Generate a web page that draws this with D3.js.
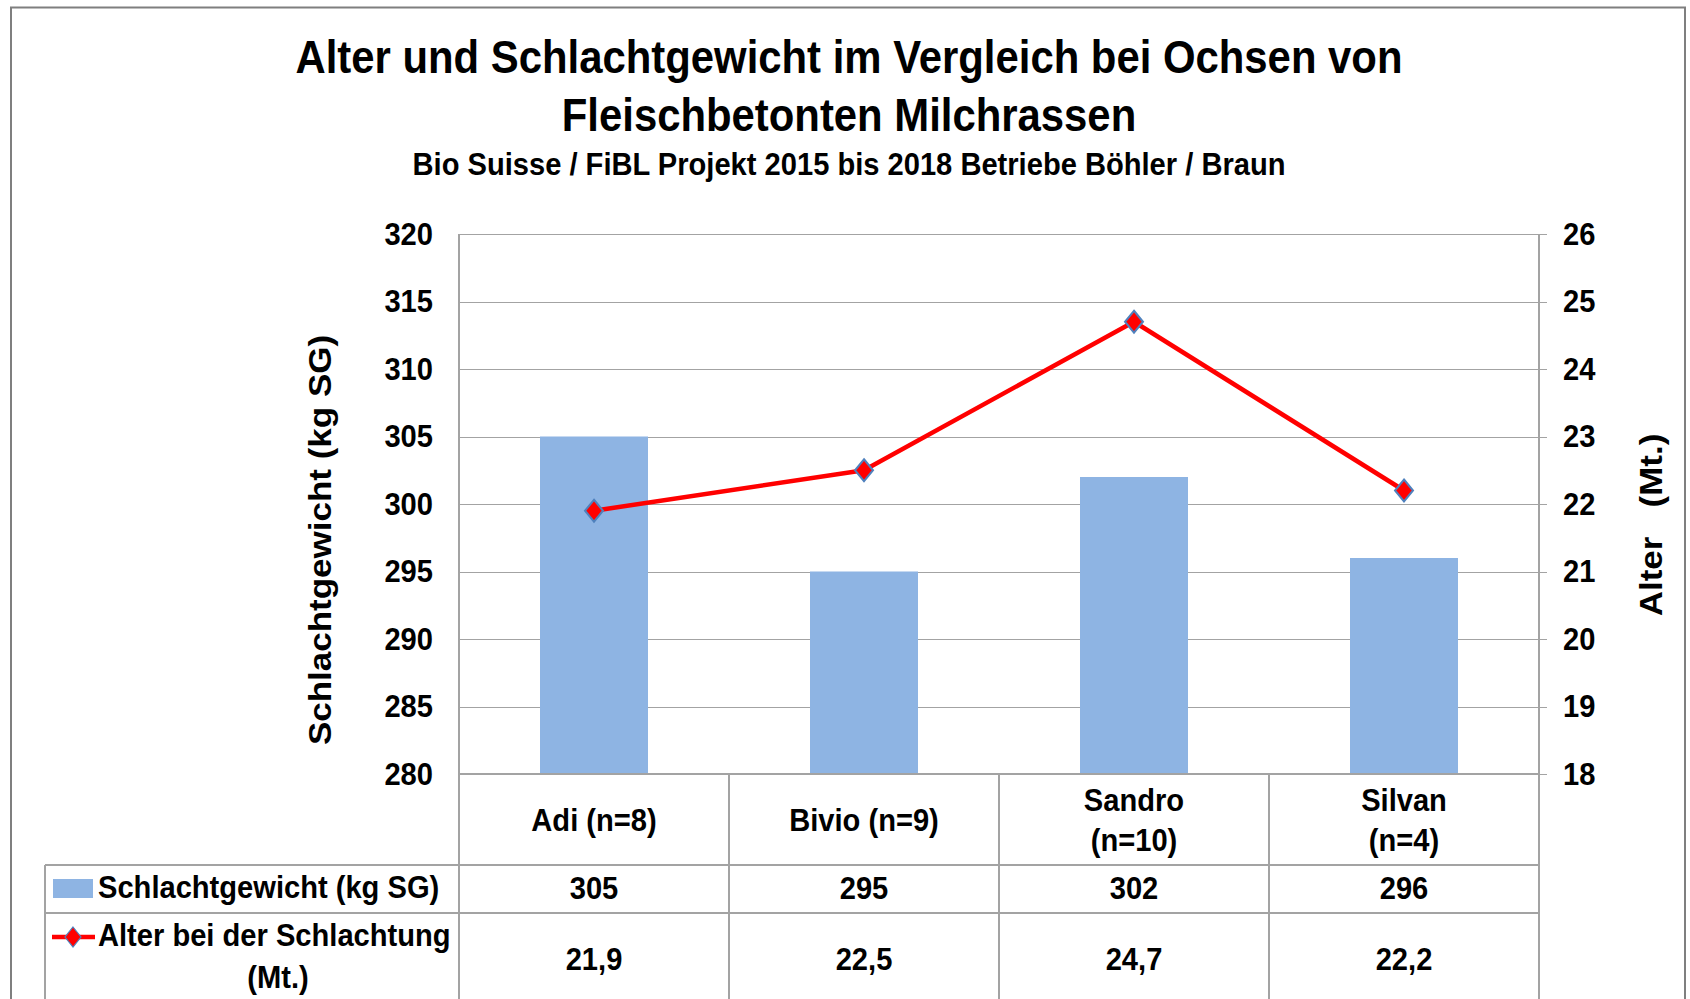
<!DOCTYPE html>
<html>
<head>
<meta charset="utf-8">
<script src="https://cdn.jsdelivr.net/npm/d3@7"></script>
<style>
  html, body { margin: 0; padding: 0; background: #fff; overflow: hidden; }
  svg { display: block; font-family: 'Liberation Sans', Arial, sans-serif; font-weight: bold; }
</style>
</head>
<body>
<svg id="chart" width="1690" height="999"></svg>
<script>
// data
const categories = ['Adi (n=8)', 'Bivio (n=9)', 'Sandro\n(n=10)', 'Silvan\n(n=4)']
const weight = [305, 295, 302, 296]
const age = [21.9, 22.5, 24.7, 22.2]
const weightTicks = [280, 285, 290, 295, 300, 305, 310, 315, 320]
const ageTicks = [18, 19, 20, 21, 22, 23, 24, 25, 26]
const weightName = 'Schlachtgewicht (kg SG)'
const ageName = ['Alter bei der Schlachtung', '(Mt.)']
const titleLines = ['Alter und Schlachtgewicht im Vergleich bei Ochsen von', 'Fleischbetonten Milchrassen']
const subtitle = 'Bio Suisse / FiBL Projekt 2015 bis 2018 Betriebe Böhler / Braun'

const SQ = 0.91 // the original text is a bit condensed
const grid = '#a3a3a3'
const barColor = '#8eb4e3'

const de = d3.formatLocale({ decimal: ',', thousands: '.', grouping: [3], currency: ['', ' €'] })
const fmtAge = de.format('.1f')

const svg = d3.select('#chart')

// plot box
const plotL = 459, plotR = 1539, plotT = 234, plotB = 774
const rowCat = 865, row1 = 913, tableBottom = 1010, legendLeft = 45

const x = d3.scaleBand().domain(categories).range([plotL, plotR]).paddingInner(0).paddingOuter(0)
const yL = d3.scaleLinear().domain([280, 320]).range([plotB, plotT])
const yR = d3.scaleLinear().domain([18, 26]).range([plotB, plotT])

function label(g, px, py, text, size, anchor) {
  return g.append('text')
    .attr('transform', `translate(${px},${py}) scale(${SQ},1)`)
    .attr('text-anchor', anchor || 'middle')
    .style('font-size', size + 'px')
    .attr('fill', '#000')
    .text(text)
}

// outer frame
svg.append('rect')
  .attr('x', 11).attr('y', 7.5).attr('width', 1674).attr('height', 1100)
  .attr('fill', 'none').attr('stroke', '#7f7f7f').attr('stroke-width', 2)

// titles
label(svg, 849, 73, titleLines[0], 46)
label(svg, 849, 131, titleLines[1], 46)
label(svg, 849, 175, subtitle, 32)

// gridlines
svg.append('g')
  .attr('transform', `translate(${plotL},0)`)
  .call(d3.axisLeft(yL).tickValues(weightTicks).tickSize(-(plotR - plotL)).tickFormat(''))
  .call((g) => g.select('.domain').remove())
  .selectAll('line').attr('stroke', grid).attr('shape-rendering', 'crispEdges')

// left axis labels
const axL = svg.append('g')
  .attr('transform', `translate(${plotL},0)`)
  .call(d3.axisLeft(yL).tickValues(weightTicks).tickSize(0).tickPadding(26))
axL.select('.domain').remove()
axL.attr('font-family', null).attr('font-size', null)
axL.selectAll('text')
  .attr('x', 0)
  .attr('transform', `translate(-26,0) scale(${SQ},1)`)
  .style('font-size', '32px').attr('fill', '#000')

// right axis
const axR = svg.append('g')
  .attr('transform', `translate(${plotR},0)`)
  .call(d3.axisRight(yR).tickValues(ageTicks).tickSize(8).tickPadding(16))
axR.select('.domain').remove()
axR.attr('font-family', null).attr('font-size', null)
axR.selectAll('line').attr('stroke', grid).attr('shape-rendering', 'crispEdges')
axR.selectAll('text')
  .attr('x', 0)
  .attr('transform', `translate(24,0) scale(${SQ},1)`)
  .style('font-size', '32px').attr('fill', '#000')

// axis titles (rotated)
svg.append('text')
  .attr('transform', `translate(331,540) rotate(-90) scale(1,${SQ})`)
  .attr('text-anchor', 'middle').style('font-size', '35px')
  .text(weightName)
svg.append('text')
  .attr('transform', `translate(1662,525) rotate(-90) scale(1,${SQ})`)
  .attr('text-anchor', 'middle').style('font-size', '35px')
  .style('white-space', 'pre')
  .text('Alter   (Mt.)')

// bars
const barW = x.bandwidth() * 0.4
svg.append('g')
  .selectAll('rect')
  .data(weight)
  .enter()
  .append('rect')
  .attr('x', (d, i) => x(categories[i]) + (x.bandwidth() - barW) / 2)
  .attr('y', (d) => yL(d))
  .attr('width', barW)
  .attr('height', (d) => yL(280) - yL(d))
  .attr('fill', barColor)

// table lines
const tl = svg.append('g').attr('stroke', grid).attr('stroke-width', 1.3).attr('shape-rendering', 'crispEdges')
tl.append('line').attr('x1', plotL).attr('x2', plotR).attr('y1', plotB).attr('y2', plotB)
tl.append('line').attr('x1', legendLeft).attr('x2', plotR).attr('y1', rowCat).attr('y2', rowCat)
tl.append('line').attr('x1', legendLeft).attr('x2', plotR).attr('y1', row1).attr('y2', row1)
tl.append('line').attr('x1', legendLeft).attr('x2', legendLeft).attr('y1', rowCat).attr('y2', tableBottom)
tl.append('line').attr('x1', plotL).attr('x2', plotL).attr('y1', plotT).attr('y2', tableBottom)
tl.append('line').attr('x1', plotR).attr('x2', plotR).attr('y1', plotT).attr('y2', tableBottom)
tl.selectAll('.sep')
  .data(categories.slice(1))
  .enter()
  .append('line')
  .attr('class', 'sep')
  .attr('x1', (d) => x(d)).attr('x2', (d) => x(d))
  .attr('y1', plotB).attr('y2', tableBottom)

// line series
const line = d3.line()
  .x((d, i) => x(categories[i]) + x.bandwidth() / 2)
  .y((d) => yR(d))
svg.append('path')
  .datum(age)
  .attr('d', line)
  .attr('fill', 'none')
  .attr('stroke', '#ff0000')
  .attr('stroke-width', 4.5)
  .attr('stroke-linejoin', 'round')

const diamond = 'M0,-11L9,0L0,11L-9,0Z'
svg.append('g')
  .selectAll('path')
  .data(age)
  .enter()
  .append('path')
  .attr('transform', (d, i) => `translate(${x(categories[i]) + x.bandwidth() / 2},${yR(d)})`)
  .attr('d', diamond)
  .attr('fill', '#ff0000')
  .attr('stroke', '#4f81bd')
  .attr('stroke-width', 2)

// category labels
categories.forEach((c) => {
  const cx = x(c) + x.bandwidth() / 2
  const parts = c.split('\n')
  if (parts.length === 1) {
    label(svg, cx, 831, parts[0], 32)
  } else {
    label(svg, cx, 811, parts[0], 32)
    label(svg, cx, 851, parts[1], 32)
  }
})

// table values
weight.forEach((v, i) => {
  label(svg, x(categories[i]) + x.bandwidth() / 2, 899, v, 32)
})
age.forEach((v, i) => {
  label(svg, x(categories[i]) + x.bandwidth() / 2, 970, fmtAge(v), 32)
})

// legend keys
svg.append('rect')
  .attr('x', 53).attr('y', 879).attr('width', 40).attr('height', 19)
  .attr('fill', barColor)
label(svg, 98, 898, weightName, 32, 'start')

svg.append('line')
  .attr('x1', 52).attr('x2', 95).attr('y1', 937).attr('y2', 937)
  .attr('stroke', '#ff0000').attr('stroke-width', 4.5)
svg.append('path')
  .attr('transform', 'translate(73,937)')
  .attr('d', 'M0,-10L8,0L0,10L-8,0Z')
  .attr('fill', '#ff0000')
  .attr('stroke', '#4f81bd')
  .attr('stroke-width', 1.2)
label(svg, 98, 946, ageName[0], 32, 'start')
label(svg, 278, 988, ageName[1], 32)
</script>
</body>
</html>
